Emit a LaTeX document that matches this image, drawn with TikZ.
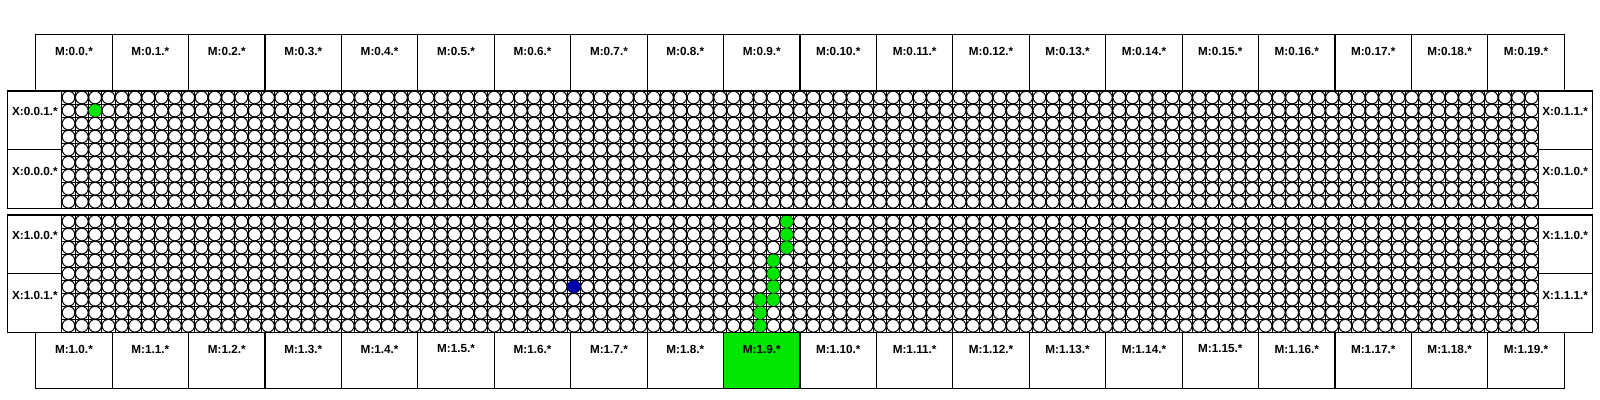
\documentclass[tikz,border=0pt]{standalone}
\usepackage{fontspec}
\setmainfont{Liberation Sans}
\definecolor{hlgreen}{RGB}{0,230,0}
\definecolor{hlblue}{RGB}{0,0,170}
\begin{document}
\begin{tikzpicture}[x=0.75pt,y=-0.75pt,
  boxline/.style={draw=black,line width=0.8pt},
  lbl/.style={font=\bfseries\fontsize{8.8}{10}\selectfont,inner sep=0pt},
  gridline/.style={draw=black,line width=0.7pt},
  cell/.style={draw=black,fill=white,line width=0.75pt},
  hlg/.style={fill=hlgreen},
  hlb/.style={fill=hlblue}]
\useasboundingbox[fill=white] (0,0) rectangle (1600,400);
\def\gx{61.85}
\def\pw{13.3}
\def\ph{13.03}
% grids of the two panels
\foreach \top in {91,215}{
  \foreach \i in {0,...,111}{
    \draw[gridline] ({\gx+\i*\pw},\top) -- ({\gx+\i*\pw},{\top+9*\ph});
  }
  \foreach \j in {0,...,9}{
    \draw[gridline] (\gx,{\top+\j*\ph}) -- ({\gx+111*\pw},{\top+\j*\ph});
  }
  \foreach \j in {0,...,8}{
    \foreach \i in {0,...,110}{
      \draw[cell] ({\gx+(\i+0.5)*\pw},{\top+(\j+0.5)*\ph}) circle[radius=6.35];
    }
  }
}
% highlighted routers
\newcommand{\hcell}[4]{\path[#1] ({\gx+(#2+0.5)*\pw},{#4+(#3+0.5)*\ph}) circle[radius=6.3];}
\hcell{hlg}{2}{1}{91}
\foreach \r in {0,1,2}{\hcell{hlg}{54}{\r}{215}}
\foreach \r in {3,4,5,6}{\hcell{hlg}{53}{\r}{215}}
\foreach \r in {6,7,8}{\hcell{hlg}{52}{\r}{215}}
\hcell{hlb}{38}{5}{215}
% panel borders and X boxes
\foreach \top/\p in {91/0,215/1}{
  \draw[boxline] (7.85,\top) rectangle (1592.15,{\top+9*\ph});
  \draw[boxline] (\gx,\top) -- (\gx,{\top+9*\ph});
  \draw[boxline] ({\gx+111*\pw},\top) -- ({\gx+111*\pw},{\top+9*\ph});
  \draw[boxline] (7.85,{\top+4.5*\ph}) -- (\gx,{\top+4.5*\ph});
  \draw[boxline] ({\gx+111*\pw},{\top+4.5*\ph}) -- (1592.15,{\top+4.5*\ph});
}
\node[lbl] (xl001) at (34.85,111) {X:0.0.1.*};
\node[lbl] (xl000) at (34.85,171.5) {X:0.0.0.*};
\node[lbl] (xl011) at (1565.15,111) {X:0.1.1.*};
\node[lbl] (xl010) at (1565.15,171.5) {X:0.1.0.*};
\node[lbl] (xl100) at (34.85,235) {X:1.0.0.*};
\node[lbl] (xl101) at (34.85,295.5) {X:1.0.1.*};
\node[lbl] (xl110) at (1565.15,235) {X:1.1.0.*};
\node[lbl] (xl111) at (1565.15,295.5) {X:1.1.1.*};
% M boxes
\fill[hlgreen] ({35.7+9*76.43},{215+9*\ph}) rectangle ({35.7+10*76.43},388.8);
\foreach \i in {0,...,19}{
  \draw[boxline] ({35.7+\i*76.43},34.5) rectangle ({35.7+(\i+1)*76.43},91);
  \node[lbl] (mt\i) at ({35.7+(\i+0.5)*76.43},51) {M:0.\i.*};
  \draw[boxline] ({35.7+\i*76.43},{215+9*\ph}) rectangle ({35.7+(\i+1)*76.43},388.8);
  \node[lbl] (mb\i) at ({35.7+(\i+0.5)*76.43},349) {M:1.\i.*};
}
\end{tikzpicture}
\end{document}
